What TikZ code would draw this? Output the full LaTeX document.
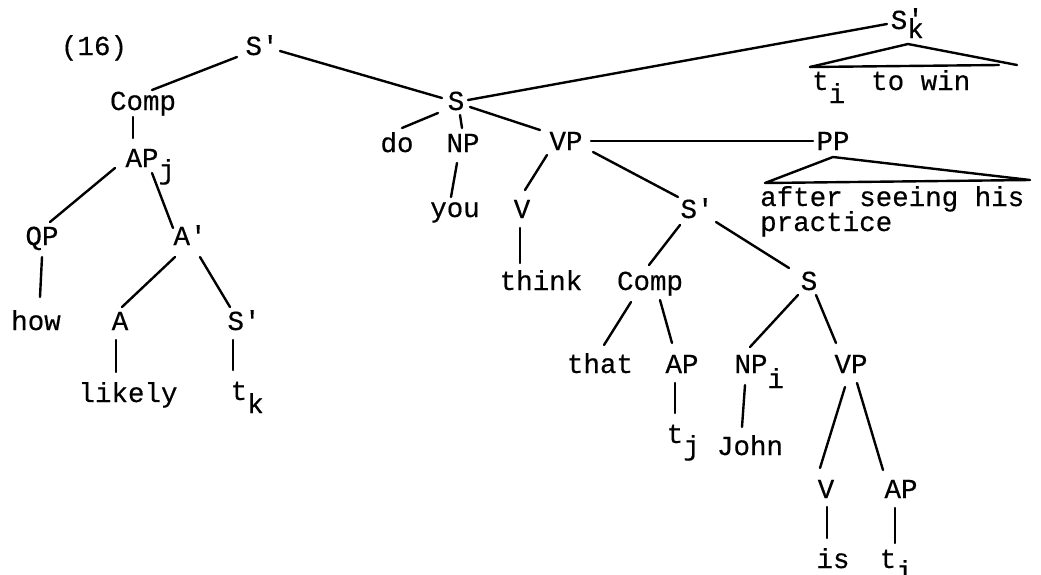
\documentclass[tikz,border=0pt]{standalone}
\usepackage{fontspec}
\setmonofont{Liberation Mono}[FakeBold=0.4]
% lowered index set in the same typewriter face
\newcommand\lsub[2][-12pt]{\rlap{\raisebox{#1}{#2}}}
\begin{document}
\begin{tikzpicture}[x=1pt,y=-1pt,
  lbl/.style={anchor=base,inner sep=0pt,font=\ttfamily\fontsize{27.5}{21}\selectfont},
  lbll/.style={lbl,anchor=base west},
  branch/.style={line width=2.4pt,line cap=round,line join=round}]
\useasboundingbox (0,0) rectangle (1041,574);

% example number
\node[lbl] (ex) at (94,55) {(16)};

% left half: the fronted AP
\node[lbl] (sp1)   at (262,55)  {S'};
\node[lbl] (comp1) at (143,110) {Comp};
\node[lbl] (apj)   at (142,167) {AP\lsub{j}};
\node[lbl] (qp)    at (42,245)  {QP};
\node[lbl] (abar)  at (190,245) {A'};
\node[lbl] (how)   at (36,330)  {how};
\node[lbl] (a)     at (120,330) {A};
\node[lbl] (sp2)   at (244,330) {S'};
\node[lbl] (likely) at (128,402) {likely};
\node[lbl] (tk)    at (239,400) {t\lsub[-13pt]{k}};

% main clause
\node[lbl] (s1)    at (456,110) {S};
\node[lbl] (do)    at (397,152) {do};
\node[lbl] (np1)   at (463,152) {NP};
\node[lbl] (vp1)   at (566,150) {VP};
\node[lbl] (pp)    at (833,150) {PP};
\node[lbl] (you)   at (455,217) {you};
\node[lbl] (v1)    at (522,218) {V};
\node[lbl] (think) at (541,290) {think};
\node[lbl] (sp3)   at (697,218) {S'};
\node[lbl] (comp2) at (650,290) {Comp};
\node[lbl] (s2)    at (809,290) {S};
\node[lbl] (that)  at (600,373) {that};
\node[lbl] (ap2)   at (682,373) {AP};
\node[lbl] (npi)   at (751,373) {NP\lsub[-15pt]{i}};
\node[lbl] (vp2)   at (851,373) {VP};
\node[lbl] (tj)    at (675,443) {t\lsub{j}};
\node[lbl] (john)  at (750,455) {John};
\node[lbl] (v2)    at (826,498) {V};
\node[lbl] (ap3)   at (901,498) {AP};
\node[lbl] (is)    at (833,568) {is};
\node[lbl] (ti)    at (888,568) {t\lsub{i}};

% extraposed S' and the PP
\node[lbl] (sk)    at (899,29)  {S\rlap{\raisebox{1pt}{'}}\lsub[-9pt]{k}};
\node[lbll] (towin) at (812,90) {t\raisebox{-13pt}{i}\hspace{26pt}to win};
\node[lbll] (after) at (760,206) {after seeing his};
\node[lbll] (pract) at (760,231) {practice};

% branches
\draw[branch] ([shift={(-25,2)}]sp1.base)   -- ([shift={(9,-20)}]comp1.base);
\draw[branch] ([shift={(18,-4)}]sp1.base)   -- ([shift={(-14,-12)}]s1.base);
\draw[branch] ([shift={(12,-10)}]s1.base)   -- ([shift={(-12,-5)}]sk.base);
\draw[branch] ([shift={(-18,3)}]s1.base)    -- ([shift={(5,-24)}]do.base);
\draw[branch] ([shift={(4,5)}]s1.base)      -- ([shift={(-1,-24)}]np1.base);
\draw[branch] ([shift={(14,-3)}]s1.base)    -- ([shift={(-26,-20)}]vp1.base);
\draw[branch] ([shift={(25,-9)}]vp1.base)   -- ([shift={(-20,-9)}]pp.base);
\draw[branch] ([shift={(-19,5)}]vp1.base)   -- ([shift={(3,-28)}]v1.base);
\draw[branch] ([shift={(27,2)}]vp1.base)    -- ([shift={(-19,-21)}]sp3.base);
\draw[branch] ([shift={(-6,11)}]np1.base)   -- ([shift={(-4,-20)}]you.base);
\draw[branch] ([shift={(-2,10)}]v1.base)    -- ([shift={(-21,-27)}]think.base);
\draw[branch] ([shift={(-17,7)}]sp3.base)   -- ([shift={(-1,-25)}]comp2.base);
\draw[branch] ([shift={(19,4)}]sp3.base)    -- ([shift={(-20,-22)}]s2.base);
\draw[branch] ([shift={(-19,12)}]comp2.base) -- ([shift={(4,-28)}]that.base);
\draw[branch] ([shift={(10,10)}]comp2.base) -- ([shift={(-10,-30)}]ap2.base);
\draw[branch] ([shift={(-11,5)}]s2.base)    -- ([shift={(-1,-26)}]npi.base);
\draw[branch] ([shift={(7,5)}]s2.base)      -- ([shift={(-15,-30)}]vp2.base);
\draw[branch] ([shift={(-7,10)}]ap2.base)   -- ([shift={(0,-30)}]tj.base);
\draw[branch] ([shift={(-6,12)}]npi.base)   -- ([shift={(-8,-28)}]john.base);
\draw[branch] ([shift={(-6,14)}]vp2.base)   -- ([shift={(-6,-30)}]v2.base);
\draw[branch] ([shift={(6,10)}]vp2.base)    -- ([shift={(-18,-28)}]ap3.base);
\draw[branch] ([shift={(1,9)}]v2.base)      -- ([shift={(-6,-30)}]is.base);
\draw[branch] ([shift={(-6,10)}]ap3.base)   -- ([shift={(7,-25)}]ti.base);
\draw[branch] ([shift={(-10,7)}]comp1.base) -- ([shift={(-9,-29)}]apj.base);
\draw[branch] ([shift={(-27,1)}]apj.base)   -- ([shift={(8,-23)}]qp.base);
\draw[branch] ([shift={(10,6)}]apj.base)    -- ([shift={(-17,-17)}]abar.base);
\draw[branch] ([shift={(0,12)}]qp.base)     -- ([shift={(4,-33)}]how.base);
\draw[branch] ([shift={(-15,12)}]abar.base) -- ([shift={(2,-23)}]a.base);
\draw[branch] ([shift={(10,12)}]abar.base)  -- ([shift={(-14,-23)}]sp2.base);
\draw[branch] ([shift={(-4,10)}]a.base)     -- ([shift={(-12,-30)}]likely.base);
\draw[branch] ([shift={(-11,10)}]sp2.base)  -- ([shift={(-6,-30)}]tk.base);

% unanalysed constituents
\draw[branch] ([shift={(-68,33)}]pp.base) -- ([shift={(0,7)}]pp.base)
  -- ([shift={(197,30)}]pp.base) -- cycle;
\draw[branch] ([shift={(-89,38)}]sk.base) -- ([shift={(9,15)}]sk.base)
  -- ([shift={(118,36)}]sk.base);
\draw[branch] ([shift={(-89,38)}]sk.base) -- ([shift={(100,36)}]sk.base);
\end{tikzpicture}
\end{document}
